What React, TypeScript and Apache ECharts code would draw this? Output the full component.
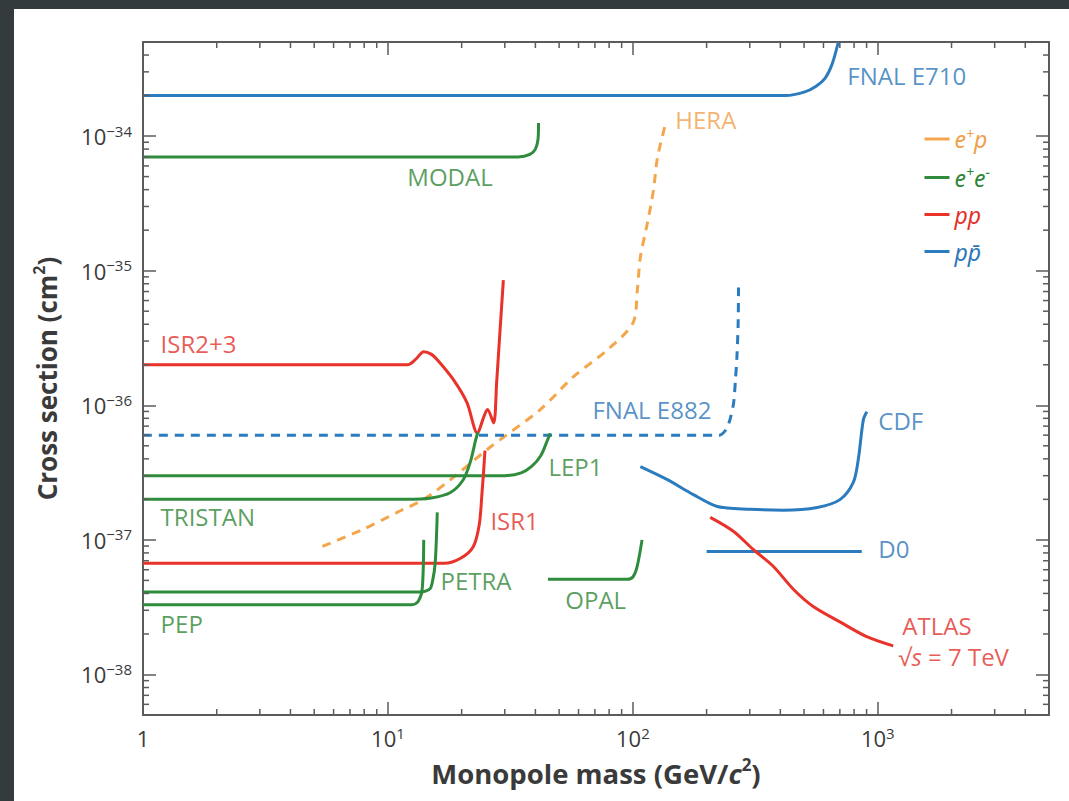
import React, { useEffect, useRef } from 'react';
import * as echarts from 'echarts';

// ---------- axes ----------
const X_MIN = 1;
const X_MAX = 5000;
const Y_MIN = 5e-39;
const Y_MAX = 5e-34;
const Y_UNIT = 1e-38; // values are plotted in units of 1e-38 cm^2

const minorMultipliers = [2, 3, 4, 5, 6, 7, 8, 9];
const xDecades = [1, 10, 100, 1000];
const yDecades = [1e-39, 1e-38, 1e-37, 1e-36, 1e-35, 1e-34];

// ---------- data: [mass GeV/c^2, cross section cm^2] ----------
const fnalE710 = [[1, 2e-34], [420, 2e-34], [500, 2.12e-34], [560, 2.35e-34], [610, 2.7e-34], [650, 3.4e-34], [690, 5e-34]];
const modal = [[1, 7e-35], [34, 7e-35], [38, 7.3e-35], [40, 8e-35], [41, 9.5e-35], [41.2, 1.25e-34]];
const hera = [[5.4, 8.95e-38], [7.94, 1.2e-37], [10.9, 1.6e-37], [14, 2.0e-37], [18, 2.8e-37], [26.2, 4.9e-37], [41.9, 9.3e-37], [57.2, 1.63e-36], [78.7, 2.58e-36], [100, 4.08e-36], [104.3, 7.2e-36], [107.3, 1.26e-35], [114.6, 2.25e-35], [121.3, 3.95e-35], [126, 6.9e-35], [136, 1.24e-34]];
const isr23 = [[1, 2e-36], [12, 2e-36], [13, 2.2e-36], [14, 2.5e-36], [15, 2.4e-36], [16, 2.15e-36], [18.5, 1.55e-36], [21, 1.05e-36], [23.2, 6.2e-37], [24.5, 8e-37], [25.5, 9.3e-37], [27, 7.4e-37], [27.8, 1.5e-36], [28.5, 3e-36], [29.6, 8.5e-36]];
const fnalE882 = [[1, 6e-37], [225, 6e-37], [240, 6.6e-37], [250, 8e-37], [258, 1.05e-36], [262, 1.5e-36], [266, 2.3e-36], [269, 4e-36], [270, 7.5e-36]];
const lep1 = [[1, 3e-37], [30, 3e-37], [35, 3.15e-37], [38.5, 3.5e-37], [42, 4.2e-37], [44.8, 5.5e-37], [46, 6.2e-37]];
const tristan = [[1, 2e-37], [12, 2e-37], [15, 2.05e-37], [18, 2.25e-37], [20.3, 2.8e-37], [21.7, 3.8e-37], [22.8, 5.5e-37], [23.3, 6.3e-37]];
const isr1 = [[1, 6.7e-38], [17, 6.7e-38], [19.8, 7.3e-38], [22.3, 8.9e-38], [23.6, 1.3e-37], [24.2, 2.2e-37], [24.6, 3.3e-37], [24.9, 4.6e-37]];
const petra = [[1, 4.1e-38], [13.5, 4.1e-38], [14.8, 4.3e-38], [15.2, 4.9e-38], [15.6, 6.8e-38], [15.9, 1.6e-37]];
const pep = [[1, 3.3e-38], [12.5, 3.3e-38], [13.3, 3.5e-38], [13.8, 4.3e-38], [14, 1e-37]];
const opal = [[45, 5.1e-38], [95, 5.1e-38], [100, 5.3e-38], [104, 6.3e-38], [109, 1e-37]];
const cdf = [[107.3, 3.5e-37], [138.3, 2.8e-37], [176.6, 2.17e-37], [221.3, 1.77e-37], [302, 1.69e-37], [411, 1.66e-37], [566, 1.74e-37], [703, 2e-37], [794, 2.67e-37], [832, 3.94e-37], [873, 7.8e-37], [902, 8.95e-37]];
const d0 = [[200, 8.2e-38], [860, 8.2e-38]];
const atlas = [[207, 1.47e-37], [257, 1.16e-37], [310, 8.5e-38], [374, 6.37e-38], [452, 4.3e-38], [545, 3.2e-38], [703, 2.45e-38], [906, 1.9e-38], [1156, 1.63e-38]];

// ---------- legend groups ----------
const legendNames = ['e+p', 'e+e-', 'pp', 'ppbar'];

// ---------- curve labels ----------
const labelTexts = ['FNAL E710', 'MODAL', 'HERA', 'ISR2+3', 'FNAL E882', 'LEP1', 'TRISTAN', 'ISR1', 'PETRA', 'PEP', 'OPAL', 'CDF', 'D0', 'ATLAS', '√{s|s} = 7 TeV'];
const labelX = [751, 12.0, 149, 1.18, 68.4, 45.2, 1.18, 26.2, 16.4, 1.18, 53.0, 1005, 1005, 1259, 1212];
const labelY = [2.81e-34, 5.0e-35, 1.32e-34, 2.86e-36, 9.27e-37, 3.5e-37, 1.49e-37, 1.39e-37, 5.0e-38, 2.4e-38, 3.62e-38, 7.67e-37, 8.65e-38, 2.33e-38, 1.37e-38];
const labelGroup = ['ppbar', 'e+e-', 'e+p', 'pp', 'ppbar', 'e+e-', 'e+e-', 'pp', 'e+e-', 'e+e-', 'e+e-', 'ppbar', 'ppbar', 'pp', 'pp'];

// ---------- styles ----------
const DARK = '#343b3c';
const AXIS = '#5b5b5b';
const TEXT = '#3a3a3a';
const FONT = '"Open Sans", "Noto Sans", sans-serif';
const COLORS: Record<string, string> = {
  'e+p': '#f3a64c',
  'e+e-': '#2f8c3c',
  pp: '#e8322a',
  ppbar: '#2b7bbf',
};
const LABEL_COLORS: Record<string, string> = {
  'e+p': '#f0a04a',
  'e+e-': '#2f8636',
  pp: '#e2302a',
  ppbar: '#2c76b8',
};

function lineSeries(group: string, data: number[][], dashed = false) {
  const color = COLORS[group];
  return {
    type: 'line',
    name: group,
    data: data.map(([x, y]) => [x, y / Y_UNIT]),
    symbol: 'none',
    smooth: 0.3,
    silent: true,
    z: 3,
    itemStyle: { color },
    lineStyle: { color, width: 3, type: dashed ? [9, 7] : 'solid' },
  };
}

function isPow10(v: number) {
  const l = Math.log10(v);
  return Math.abs(l - Math.round(l)) < 1e-6;
}

function buildOption() {
  const ticks: number[][] = [];
  const yMinS = Y_MIN / Y_UNIT;
  const yMaxS = Y_MAX / Y_UNIT;
  xDecades.forEach((d) =>
    minorMultipliers.forEach((m) => {
      const v = m * d;
      if (v > X_MIN && v < X_MAX) ticks.push([v, 1, 0]);
    })
  );
  yDecades.forEach((d) =>
    minorMultipliers.forEach((m) => {
      const v = (m * d) / Y_UNIT;
      if (v > yMinS * 1.0001 && v < yMaxS * 0.9999) ticks.push([X_MIN, v, 1]);
    })
  );

  const supStyle = (color: string, size: number) => ({
    fontSize: size,
    color,
    fontFamily: FONT,
    verticalAlign: 'top',
    lineHeight: 14,
  });

  const legendRich: Record<string, any> = {};
  const legendFmt: Record<string, string> = {};
  legendNames.forEach((n, i) => {
    const c = LABEL_COLORS[n];
    legendRich['i' + i] = { fontSize: 23, fontStyle: 'italic', color: c, fontFamily: '"Noto Sans", sans-serif', lineHeight: 26 };
    legendRich['s' + i] = { ...supStyle(c, 14), fontStyle: 'italic', fontFamily: '"Noto Sans", sans-serif' };
  });
  legendFmt['e+p'] = '{i0|e}{s0|+}{i0|p}';
  legendFmt['e+e-'] = '{i1|e}{s1|+}{i1|e}{s1|−}';
  legendFmt['pp'] = '{i2|pp}';
  legendFmt['ppbar'] = '{i3|pp\u0304}';

  const axisCommon = {
    type: 'log',
    axisLine: { show: true, lineStyle: { color: AXIS, width: 2 } },
    axisTick: { show: true, inside: true, length: 13, lineStyle: { color: AXIS, width: 1.5 } },
    splitLine: { show: false },
    minorTick: { show: false },
  };

  const labelData = labelTexts.map((t, i) => ({
    value: [labelX[i], labelY[i] / Y_UNIT],
    label: {
      formatter: t,
      color: LABEL_COLORS[labelGroup[i]],
      rich: {
        s: { fontStyle: 'italic', fontSize: 24, color: LABEL_COLORS[labelGroup[i]], fontFamily: FONT },
      },
    },
  }));

  return {
    animation: false,
    backgroundColor: '#ffffff',
    textStyle: { fontFamily: FONT },
    grid: { left: 129, right: 20, top: 33, bottom: 86, containLabel: false },
    legend: {
      data: legendNames,
      orient: 'vertical',
      left: 904,
      top: 112,
      itemWidth: 25,
      itemHeight: 14,
      itemGap: 14,
      selectedMode: false,
      itemStyle: { opacity: 0 },
      lineStyle: { type: 'solid', width: 3 },
      formatter: (name: string) => legendFmt[name],
      textStyle: { rich: legendRich, fontSize: 22 },
    },
    xAxis: [
      {
        ...axisCommon,
        position: 'bottom',
        min: X_MIN,
        max: X_MAX,
        axisLabel: {
          margin: 10,
          color: TEXT,
          formatter: (v: number) => {
            if (!isPow10(v)) return '';
            const e = Math.round(Math.log10(v));
            return e === 0 ? '{b|1}' : '{b|10}{s|' + e + '}';
          },
          rich: {
            b: { fontSize: 22, color: TEXT, fontFamily: FONT, lineHeight: 26 },
            s: supStyle(TEXT, 15),
          },
        },
        name: '{b|Monopole mass (GeV/}{bi|c}{bs|2}{b|)}',
        nameLocation: 'middle',
        nameGap: 41,
        nameTextStyle: {
          rich: {
            b: { fontSize: 27.5, fontWeight: 'bold', color: TEXT, fontFamily: FONT, lineHeight: 34 },
            bi: { fontSize: 27.5, fontWeight: 'bold', fontStyle: 'italic', color: TEXT, fontFamily: FONT, lineHeight: 34 },
            bs: { fontSize: 17, fontWeight: 'bold', color: TEXT, fontFamily: FONT, verticalAlign: 'top', lineHeight: 20 },
          },
        },
      },
      {
        ...axisCommon,
        position: 'top',
        min: X_MIN,
        max: X_MAX,
        axisLabel: { show: false },
      },
    ],
    yAxis: [
      {
        ...axisCommon,
        position: 'left',
        min: yMinS,
        max: yMaxS,
        axisLabel: {
          margin: 11,
          color: TEXT,
          formatter: (v: number) => {
            if (!isPow10(v)) return '';
            const e = Math.round(Math.log10(v * Y_UNIT));
            return '{b|10}{s|−' + Math.abs(e) + '}';
          },
          rich: {
            b: { fontSize: 22, color: TEXT, fontFamily: FONT, lineHeight: 26 },
            s: supStyle(TEXT, 15),
          },
        },
        name: '{b|Cross section (cm}{bs|2}{b|)}',
        nameLocation: 'middle',
        nameGap: 80,
        nameTextStyle: {
          padding: [0, 0, 0, 0],
          rich: {
            b: { fontSize: 26, fontWeight: 'bold', color: TEXT, fontFamily: FONT, lineHeight: 32 },
            bs: { fontSize: 16, fontWeight: 'bold', color: TEXT, fontFamily: FONT, verticalAlign: 'top', lineHeight: 20 },
          },
        },
      },
      {
        ...axisCommon,
        position: 'right',
        min: yMinS,
        max: yMaxS,
        axisLabel: { show: false },
      },
    ],
    series: [
      lineSeries('ppbar', fnalE710),
      lineSeries('e+e-', modal),
      lineSeries('e+p', hera, true),
      lineSeries('pp', isr23),
      lineSeries('ppbar', fnalE882, true),
      lineSeries('e+e-', lep1),
      lineSeries('e+e-', tristan),
      lineSeries('pp', isr1),
      lineSeries('e+e-', petra),
      lineSeries('e+e-', pep),
      lineSeries('e+e-', opal),
      lineSeries('ppbar', cdf),
      lineSeries('ppbar', d0),
      lineSeries('pp', atlas),
      {
        type: 'scatter',
        name: 'labels',
        symbolSize: 0,
        silent: true,
        z: 5,
        data: labelData,
        label: {
          show: true,
          position: 'right',
          distance: 0,
          fontSize: 24,
          fontFamily: FONT,
        },
      },
      {
        type: 'custom',
        name: 'minorTicks',
        silent: true,
        z: 6,
        data: ticks,
        encode: { x: 0, y: 1 },
        renderItem: (params: any, api: any) => {
          const cs = params.coordSys;
          const kind = api.value(2);
          const len = 6;
          const style = { stroke: AXIS, lineWidth: 1.5 };
          if (kind === 0) {
            const px = api.coord([api.value(0), api.value(1)])[0];
            return {
              type: 'group',
              children: [
                { type: 'line', shape: { x1: px, y1: cs.y + cs.height, x2: px, y2: cs.y + cs.height - len }, style },
                { type: 'line', shape: { x1: px, y1: cs.y, x2: px, y2: cs.y + len }, style },
              ],
            };
          }
          const py = api.coord([api.value(0), api.value(1)])[1];
          return {
            type: 'group',
            children: [
              { type: 'line', shape: { x1: cs.x, y1: py, x2: cs.x + len, y2: py }, style },
              { type: 'line', shape: { x1: cs.x + cs.width, y1: py, x2: cs.x + cs.width - len, y2: py }, style },
            ],
          };
        },
      },
    ],
  };
}

export default function App() {
  const ref = useRef<HTMLDivElement>(null);
  useEffect(() => {
    const chart = echarts.init(ref.current as HTMLDivElement, null, { renderer: 'svg' });
    chart.setOption(buildOption() as any);
    return () => chart.dispose();
  }, []);
  return (
    <div style={{ position: 'fixed', left: 0, top: 0, width: 1069, height: 801, background: DARK, overflow: 'hidden' }}>
      <div ref={ref} style={{ position: 'absolute', left: 14, top: 9, width: 1055, height: 792, background: '#ffffff' }} />
    </div>
  );
}
